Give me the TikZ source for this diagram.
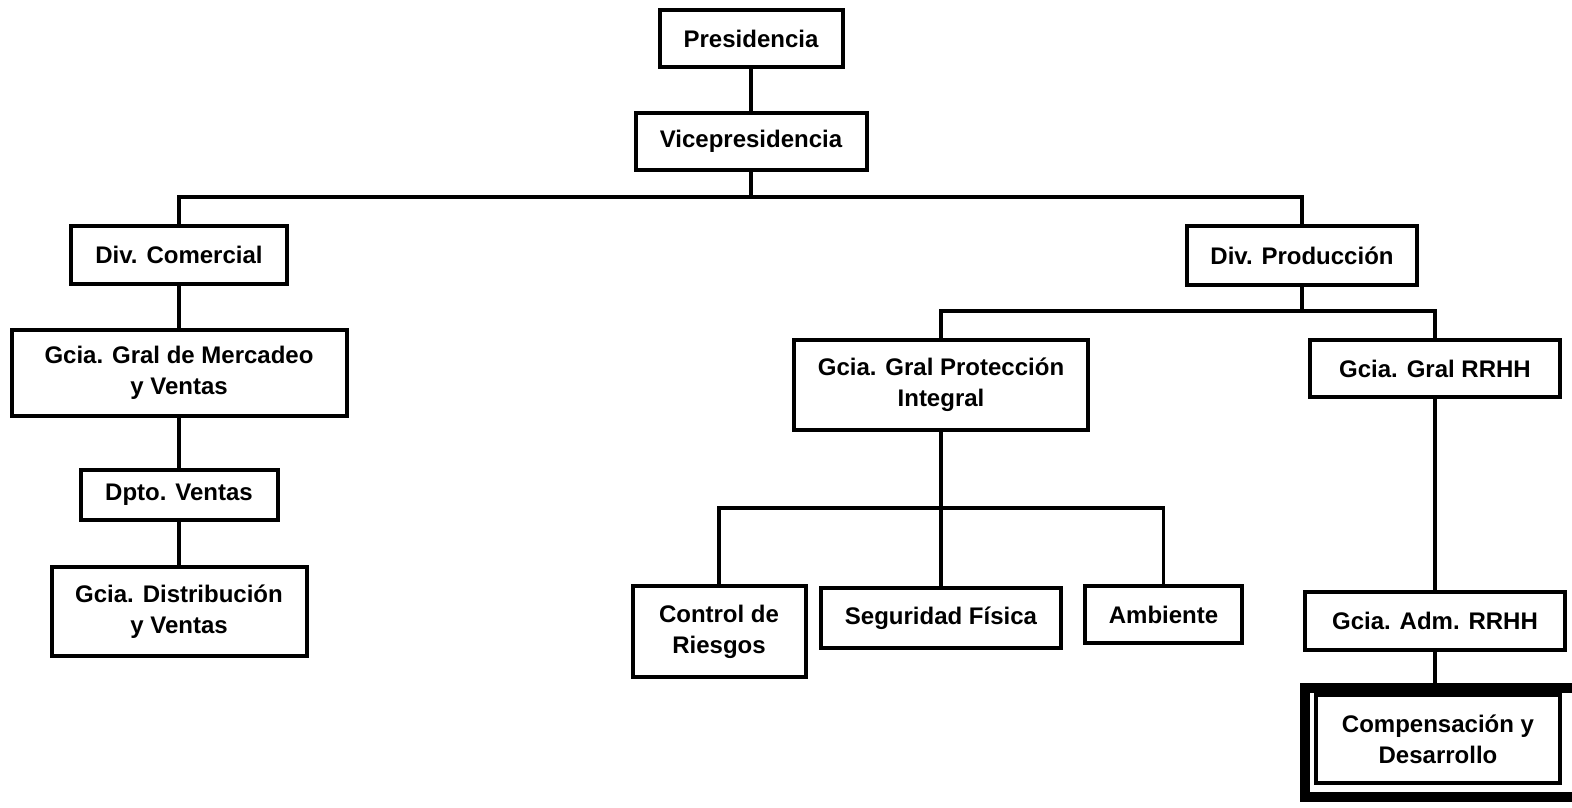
\documentclass[tikz,border=0pt]{standalone}
\usepackage{fontspec}
\setmainfont{Liberation Sans}
\begin{document}
\begin{tikzpicture}[x=1pt,y=-1pt,
  box/.style={draw=black,line width=4pt,inner sep=0pt,align=center,
    font=\fontsize{24}{31}\selectfont\bfseries},
  conn/.style={line width=3.5pt}]
\useasboundingbox (0,0) rectangle (1572,807);
\fill[white] (0,0) rectangle (1572,807);
% boxes
\node[box,minimum width=183,minimum height=57] (pres) at (751,38.5) {Presidencia};
\node[box,minimum width=231,minimum height=57] (vice) at (751,141.5) {Vicepresidencia};
\node[box,minimum width=216,minimum height=58] (divc) at (179,255) {Div. Comercial};
\node[box,minimum width=230,minimum height=59] (divp) at (1302,255.5) {Div. Producción};
\node[box,minimum width=335,minimum height=86] (merc) at (179,373) {Gcia. Gral de Mercadeo\\y Ventas};
\node[box,minimum width=197,minimum height=50] (dpto) at (179,495) {Dpto. Ventas};
\node[box,minimum width=255,minimum height=89] (dist) at (179,611.5) {Gcia. Distribución\\y Ventas};
\node[box,minimum width=294,minimum height=90] (prot) at (941,385) {Gcia. Gral Protección\\Integral};
\node[box,minimum width=250,minimum height=57] (grrhh) at (1435,368.5) {Gcia. Gral RRHH};
\node[box,minimum width=173,minimum height=91] (ctrl) at (719,631.5) {Control de\\Riesgos};
\node[box,minimum width=240,minimum height=60] (seg) at (941,618) {Seguridad Física};
\node[box,minimum width=157,minimum height=57] (amb) at (1163.5,614.5) {Ambiente};
\node[box,minimum width=260,minimum height=58] (adm) at (1435,620.5) {Gcia. Adm. RRHH};
\node[box,minimum width=244,minimum height=88] (comp) at (1438,739) {Compensación y\\Desarrollo};
\draw[line width=10pt] (1305,688) rectangle (1590,797);
% connectors
\coordinate (b1) at (751,197);
\coordinate (b2) at (1302,311);
\coordinate (b3) at (941,508);
\draw[conn] (pres) -- (vice);
\draw[conn] (vice) -- (b1);
\draw[conn] (divc.north) |- (b1) -| (divp.north);
\draw[conn] (divc) -- (merc);
\draw[conn] (merc) -- (dpto);
\draw[conn] (dpto) -- (dist);
\draw[conn] (divp) -- (b2);
\draw[conn] (prot.north) |- (b2) -| (grrhh.north);
\draw[conn] (prot) -- (seg);
\draw[conn] (ctrl.north) |- (b3) -| (amb.north);
\draw[conn] (grrhh) -- (adm);
\draw[conn] (adm.south) -- (1435,693);
\end{tikzpicture}
\end{document}
